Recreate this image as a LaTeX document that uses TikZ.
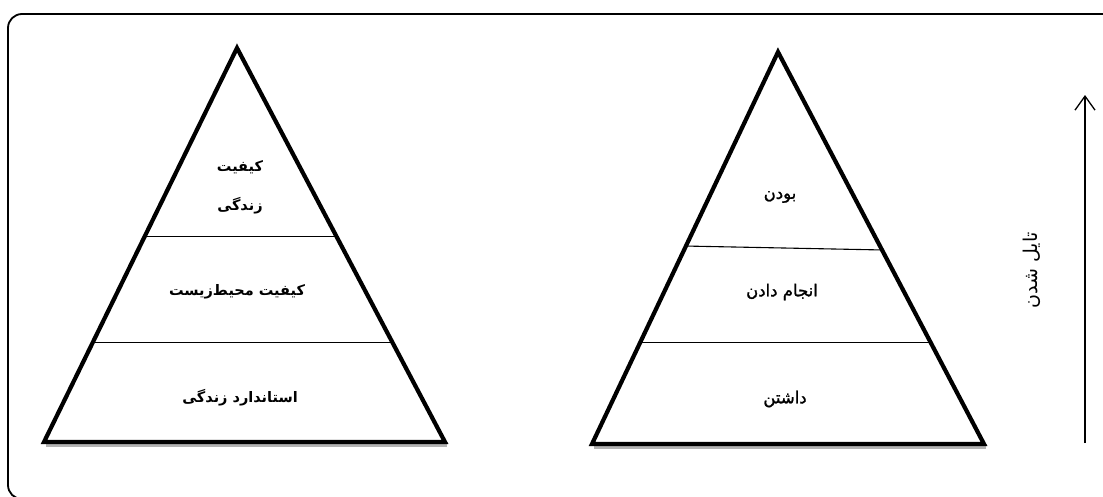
\documentclass[tikz,border=0pt]{standalone}
\usepackage{fontspec}
\newfontfamily\fa[Script=Arabic]{DejaVu Sans}
\newfontfamily\famedium[Script=Arabic,FakeBold=1.3]{DejaVu Sans}
\TeXXeTstate=1
\usetikzlibrary{arrows.meta,calc}
\begin{document}
\begin{tikzpicture}[x=1pt,y=-1pt,
  tri/.style={line width=4.2pt, line join=miter},
  trishadow/.style={line width=3.6pt, draw=black!30},
  divider/.style={line width=1.1pt},
  lblb/.style={font=\fa\bfseries\fontsize{14.5}{16}\selectfont, inner sep=0pt},
  lblr/.style={font=\famedium\fontsize{16.5}{18}\selectfont, inner sep=0pt},
  lblv/.style={font=\fa\fontsize{19}{21}\selectfont, inner sep=0pt},
  frame/.style={line width=1.8pt, rounded corners=14pt},
  arr/.style={line width=1.3pt, -{Straight Barb[length=14pt,width=20pt]}}]
\useasboundingbox (0,0) rectangle (1103,496);
\begin{scope}
  \clip (0,0) rectangle (1103,496);
  \draw[frame] (8,14) rectangle (1140,499);
\end{scope}
% left pyramid
\coordinate (L1) at (44,442);
\coordinate (L2) at (445,442);
\coordinate (L3) at (237,48);
\draw[trishadow] ($(L1)+(2,3)$) -- ($(L2)+(2,3)$);
\draw[tri] (L1) -- (L2) -- (L3) -- cycle;
\draw[divider] ($(L1)!0.5215!(L3)$) -- ($(L2)!0.5215!(L3)$);
\draw[divider] ($(L1)!0.253!(L3)$) -- ($(L2)!0.253!(L3)$);
% right pyramid
\coordinate (R1) at (592,444);
\coordinate (R2) at (984,444);
\coordinate (R3) at (778,52);
\draw[trishadow] ($(R1)+(2,3)$) -- ($(R2)+(2,3)$);
\draw[tri] (R1) -- (R2) -- (R3) -- cycle;
\draw[divider] ($(R1)!0.505!(R3)$) -- ($(R2)!0.495!(R3)$);
\draw[divider] ($(R1)!0.259!(R3)$) -- ($(R2)!0.259!(R3)$);
% labels left
\node[lblb] (l1a) at (240,167) {\beginR کیفیت\endR};
\node[lblb] (l1b) at (240,206) {\beginR زندگی\endR};
\node[lblb] (l2) at (237,292) {\beginR کیفیت محیط‌زیست\endR};
\node[lblb] (l3) at (240,398) {\beginR استاندارد زندگی\endR};
% labels right
\node[lblr] (r1) at (780,197) {\beginR بودن\endR};
\node[lblr] (r2) at (782,292) {\beginR انجام دادن\endR};
\node[lblr] (r3) at (785,399) {\beginR داشتن\endR};
% arrow
\coordinate (a0) at (1085,443);
\coordinate (a1) at (1085,95);
\draw[arr] (a0) -- (a1);
\node[lblv, rotate=90] (ta) at (1032,270) {\beginR تایل شدن\endR};
\end{tikzpicture}
\end{document}
